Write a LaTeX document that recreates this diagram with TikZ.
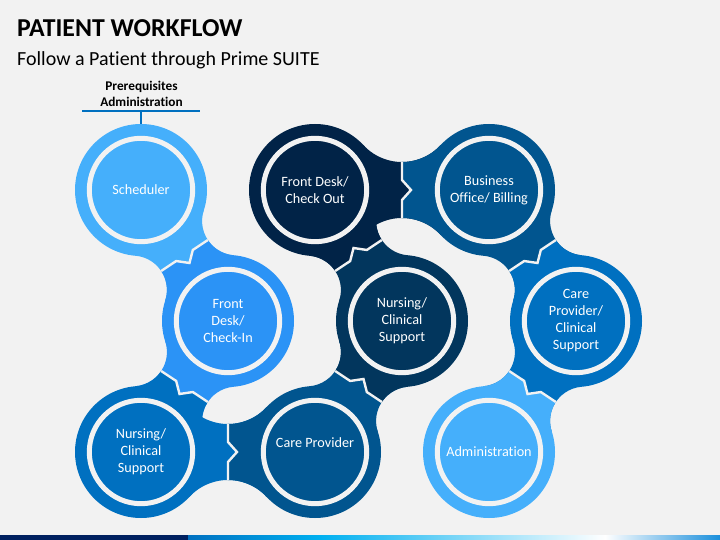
\documentclass[tikz,border=0pt]{standalone}
\usepackage{fontspec}
\setmainfont{Carlito}[Ligatures=NoCommon]
\usetikzlibrary{calc}
\definecolor{bg}{HTML}{F2F2F2}
\definecolor{cA}{HTML}{45AFFB}
\definecolor{cB}{HTML}{2B93F6}
\definecolor{cC}{HTML}{0070C0}
\definecolor{cD}{HTML}{01558F}
\definecolor{cE}{HTML}{02365D}
\definecolor{cF}{HTML}{012347}
\definecolor{navy}{HTML}{002060}
\definecolor{cyanb}{HTML}{00B0F0}
\definecolor{endb}{HTML}{1A8FDC}
% neck between two circles (A at -x, B at +x), local coordinates
\newcommand{\dneck}{(-26.95,41.02) arc[start angle=218.43, end angle=321.57, radius=34.4pt] -- (78.63,0) -- (26.95,-41.02) arc[start angle=38.43, end angle=141.57, radius=34.4pt] -- (-78.63,0) -- cycle}
\newcommand{\hneck}{(-38.59,44.85) arc[start angle=222.81, end angle=317.19, radius=52.6pt] -- (87,0) -- (38.59,-44.85) arc[start angle=42.81, end angle=137.19, radius=52.6pt] -- (-87,0) -- cycle}
\newcommand{\jointpiece}[5]{%
  \begin{scope}[shift={#1}, rotate=#2]
    \fill[#3] #5;
    \begin{scope}
      \clip (0,70) -- (0,10) -- (9,0) -- (0,-10) -- (0,-70) -- (130,-70) -- (130,70) -- cycle;
      \fill[#4] #5;
    \end{scope}
    \begin{scope}
      \clip #5;
      \draw[bg, line width=2.4pt, line join=miter] (0,70) -- (0,10) -- (9,0) -- (0,-10) -- (0,-70);
    \end{scope}
  \end{scope}}
\tikzset{
  piece/.style={circle, fill=#1, minimum size=132pt, inner sep=0pt},
  ring/.style={bg, line width=5pt},
  lbl/.style={text=white, align=center, inner sep=0pt, font=\fontsize{14.2}{17}\selectfont},
}
\begin{document}
\begin{tikzpicture}[x=1pt, y=1pt]
\useasboundingbox (0,0) rectangle (720,-540);
\fill[bg] (0,0) rectangle (720,-540);
% title
\node[anchor=base west, inner sep=0pt, font=\fontsize{25.8}{30}\selectfont\bfseries] (title) at (17,-37) {PATIENT WORKFLOW};
\node[anchor=base west, inner sep=0pt, font=\fontsize{20}{24}\selectfont] (subtitle) at (17,-66) {Follow a Patient through Prime SUITE};
% necks
\jointpiece{(184.5,-255.5)}{-56.41}{cA}{cB}{\dneck}
\jointpiece{(184.5,-386.5)}{-123.59}{cB}{cC}{\dneck}
\jointpiece{(228,-452)}{0}{cC}{cD}{\hneck}
\jointpiece{(358.5,-386.5)}{56.41}{cD}{cE}{\dneck}
\jointpiece{(358.5,-255.5)}{123.59}{cE}{cF}{\dneck}
\jointpiece{(402,-190)}{0}{cF}{cD}{\hneck}
\jointpiece{(532.5,-255.5)}{-56.41}{cD}{cC}{\dneck}
\jointpiece{(532.5,-386.5)}{-123.59}{cC}{cA}{\dneck}
% circles
\node[piece=cA] (sched) at (141,-190) {};
\node[piece=cB] (checkin) at (228,-321) {};
\node[piece=cC] (nurse1) at (141,-452) {};
\node[piece=cD] (carep) at (315,-452) {};
\node[piece=cE] (nurse2) at (402,-321) {};
\node[piece=cF] (checkout) at (315,-190) {};
\node[piece=cD] (billing) at (489,-190) {};
\node[piece=cC] (cpcs) at (576,-321) {};
\node[piece=cA] (admin) at (489,-452) {};
\foreach \n in {sched,checkin,nurse1,carep,nurse2,checkout,billing,cpcs,admin}
  \draw[ring] (\n) circle[radius=51.7pt];
% labels
\node[lbl] (tsched) at (sched) {Scheduler};
\node[lbl] (tcheckin) at (checkin) {Front\\Desk/\\Check-In};
\node[lbl] (tnurse1) at (nurse1) {Nursing/\\Clinical\\Support};
\node[lbl] (tcarep) at ([yshift=9pt]carep) {Care Provider};
\node[lbl] (tnurse2) at (nurse2) {Nursing/\\Clinical\\Support};
\node[lbl] (tcheckout) at (checkout) {Front Desk/\\Check Out};
\node[lbl] (tbilling) at (billing) {Business\\Office/ Billing};
\node[lbl] (tcpcs) at (cpcs) {Care\\Provider/\\Clinical\\Support};
\node[lbl] (tadmin) at (admin) {Administration};
% prerequisites
\node[align=center, inner sep=0pt, font=\fontsize{13.3}{16}\selectfont\bfseries] (prereq) at (141.5,-94) {Prerequisites\\Administration};
\coordinate (ulL) at (82,-111);
\coordinate (ulR) at (200,-111);
\coordinate (ulM) at (141,-111);
\draw[cC, line width=2pt] (ulL) -- (ulR);
\draw[cC, line width=2pt] (ulM) -- (sched.north);
% bottom bar
\fill[navy] (0,-540) rectangle (188,-535);
\shade[left color=cC, right color=cyanb] (188,-540) rectangle (320,-535);
\shade[left color=cyanb, right color=white] (320,-540) rectangle (605,-535);
\shade[left color=white, right color=endb] (605,-540) rectangle (720,-535);
\end{tikzpicture}
\end{document}
